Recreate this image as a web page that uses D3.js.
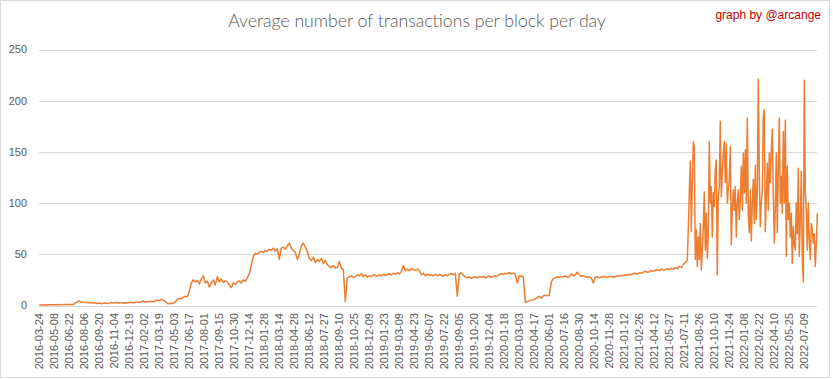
<!DOCTYPE html>
<html>
<head>
<meta charset="utf-8">
<script src="https://cdn.jsdelivr.net/npm/d3@7"></script>
<style>
  body { margin: 0; background: #fff; }
  svg { display: block; }
</style>
</head>
<body>
<svg id="chart" width="833" height="379"></svg>
<script>
// Category labels, one every 45 days from 2016-03-24
const tickLabels = [
  "2016-03-24","2016-05-08","2016-06-22","2016-08-06","2016-09-20","2016-11-04","2016-12-19",
  "2017-02-02","2017-03-19","2017-05-03","2017-06-17","2017-08-01","2017-09-15","2017-10-30","2017-12-14",
  "2018-01-28","2018-03-14","2018-04-28","2018-06-12","2018-07-27","2018-09-10","2018-10-25","2018-12-09",
  "2019-01-23","2019-03-09","2019-04-23","2019-06-07","2019-07-22","2019-09-05","2019-10-20","2019-12-04",
  "2020-01-18","2020-03-03","2020-04-17","2020-06-01","2020-07-16","2020-08-30","2020-10-14","2020-11-28",
  "2021-01-12","2021-02-26","2021-04-12","2021-05-27","2021-07-11","2021-08-26","2021-10-10","2021-11-24",
  "2022-01-08","2022-02-22","2022-04-10","2022-05-25","2022-07-09"
];
const tickStep = 45;
const yTicks = [0, 50, 100, 150, 200, 250];

// Values, one every 6 days (2016-03-24 .. 2021-07-19)
const calmStep = 6;
const calmValues = [
  0.5,0.6,0.6,0.7,0.6,0.7,0.8,0.7,0.8,0.8,0.9,0.8,0.9,0.9,1.0,0.9,1.0,1.0,
  2.5,3.5,4.5,3,3.5,2.8,3.2,2.5,3,2.2,2.6,2,2.4,1.8,2.2,2.5,2,2.3,2.8,2.4,
  2.6,3,2.5,2.8,2.2,2.7,2.4,2.9,3.2,2.6,3,3.4,2.8,3.6,4.5,3.2,3.8,3.5,4.2,3.6,
  4.4,5.2,4.5,6,5,4.2,2,1.8,2.2,2,3.5,6,7,6.5,8,9,8.5,14,22,25,23,24.5,
  21,26,29,22,24,18,22,25,20,28,23,26,22.5,24,23,20,17.5,22,21,23,
  24,22,25,23.5,27,31,40,48,51,50,52,53,51.5,54,53,55,54,56,53,55.5,
  45,56,57,55,58,61,56,54,52,45,50,58,61,57,53,46,44,47,42,45,
  43,46,41,44,40,38,37,39,36.5,37,43,37,35,4,27,28,29,27.5,28.5,30,
  29,31,28,30,27.5,29,28,30,29.5,28.5,30,29,30.5,29.5,30,31,30,31.5,30.5,32,
  31,33,39,34,35.5,34,36,35,34.5,35.5,34,30,31.5,29,30.5,29.5,30,29,30.5,29,
  30,29.5,28.5,30,29,30.5,31,30,31.5,9,31,32,29.5,28,27,28,26.5,27.5,28,27,
  28.5,27.5,28.5,27,28,29,27.5,28.5,29,28.5,30.5,31,30.5,31.5,31,32,31,31.5,30.5,22,
  29,28.5,28,3,4,4.5,5,5.5,6.5,8,9,7,9.5,10,9.5,10,23,26,27,28,27.5,
  28.5,28,29,27.5,28,31,29,30,32.5,30,28.5,29,28,27.5,28,27,22,27.5,28,27,
  28,27.5,28.5,27.5,28,28.5,27.5,28,29,28.5,29.5,29,30,29.5,30.5,30,31,31.5,30.5,32,
  31.5,32.5,33.5,32.5,33,34,33.5,34.5,35,34,35.5,34.5,35,36,35,36.5,35.5,37,36,38,
  37,40,42,44
];

// Values, one every 3 days from day 1947 to the end
const busyStart = 1947;
const busyStep = 3;
const busyValues = [
  75,110,141,72,120,160,155,45,74,38,67,45,80,35,55,77,111,54,90,46,
  70,160,100,116,67,110,97,133,142,30,106,116,180,106,130,149,160,120,158,100,
  113,123,155,59,95,113,93,116,67,100,113,84,105,136,93,149,110,152,100,183,
  90,71,113,63,100,123,80,137,84,110,221,129,77,100,113,185,191,72,105,139,
  93,149,120,152,172,106,61,95,149,71,133,183,100,126,90,170,100,181,48,136,
  84,100,67,90,41,77,60,54,100,70,134,48,84,131,45,23,220,113,93,54,
  100,64,45,80,74,61,70,38,60,90
];

const series = calmValues.map((v, i) => ({ day: i * calmStep, value: v }))
  .concat(busyValues.map((v, i) => ({ day: busyStart + i * busyStep, value: v })));

const lastDay = busyStart + (busyValues.length - 1) * busyStep;

const svg = d3.select("#chart");
const font = "'Liberation Sans', Arial, sans-serif";

// chart frame
svg.append("rect")
   .attr("x", 0.5).attr("y", 0.5)
   .attr("width", 829).attr("height", 377)
   .attr("fill", "#fff")
   .attr("stroke", "#d9d9d9");

const x = d3.scaleLinear().domain([0, lastDay]).range([39.3, 817.3]);
const y = d3.scaleLinear().domain([0, 250]).range([305.5, 49.5]);

// gridlines
svg.append("g")
   .selectAll("line")
   .data(yTicks)
   .join("line")
   .attr("x1", 39).attr("x2", 817)
   .attr("y1", d => Math.round(y(d)) + 0.5)
   .attr("y2", d => Math.round(y(d)) + 0.5)
   .attr("stroke", "#d9d9d9")
   .attr("stroke-width", 1);

// y labels
svg.append("g")
   .selectAll("text")
   .data(yTicks)
   .join("text")
   .attr("x", 27)
   .attr("y", d => y(d))
   .attr("dy", "0.35em")
   .attr("text-anchor", "end")
   .attr("font-family", font)
   .attr("font-size", 11)
   .attr("fill", "#595959")
   .text(d => d);

// x labels (rotated)
svg.append("g")
   .selectAll("text")
   .data(tickLabels)
   .join("text")
   .attr("transform", (d, i) => "translate(" + x(i * tickStep) + ",313) rotate(-90)")
   .attr("dy", "0.35em")
   .attr("text-anchor", "end")
   .attr("font-family", font)
   .attr("font-size", 11)
   .attr("fill", "#595959")
   .text(d => d);

// the line
const valueline = d3.line()
                    .x(d => x(d.day))
                    .y(d => y(d.value));
svg.append("path")
   .datum(series)
   .attr("fill", "none")
   .attr("stroke", "#ed7d31")
   .attr("stroke-width", 1.5)
   .attr("stroke-linejoin", "round")
   .attr("d", valueline);

// title
const title = svg.append("text")
   .attr("x", 417).attr("y", 27)
   .attr("text-anchor", "middle")
   .attr("font-family", "Lato, 'Liberation Sans', sans-serif")
   .attr("font-weight", 300)
   .attr("font-size", 18)
   .attr("fill", "#595959")
   .text("Average number of transactions per block per day");
const tw = title.node().getComputedTextLength();
title.attr("font-size", 18 * 378 / tw);

svg.append("text")
   .attr("x", 821).attr("y", 19)
   .attr("text-anchor", "end")
   .attr("font-family", font)
   .attr("font-size", 12)
   .attr("fill", "#c00000")
   .text("graph by @arcange");
</script>
</body>
</html>
